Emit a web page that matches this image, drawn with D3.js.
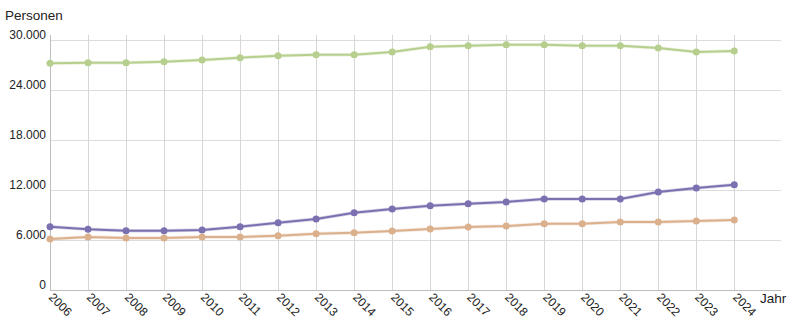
<!DOCTYPE html>
<html>
<head>
<meta charset="utf-8">
<script src="https://cdn.jsdelivr.net/npm/d3@7"></script>
<style>
  body { margin: 0; background: #fff; }
  text { font-family: "Liberation Sans", Arial, sans-serif; fill: #222; }
</style>
</head>
<body>
<div id="chart"></div>
<script>
var years = [2006, 2007, 2008, 2009, 2010, 2011, 2012, 2013, 2014, 2015,
             2016, 2017, 2018, 2019, 2020, 2021, 2022, 2023, 2024];

var greenValues = [27200, 27280, 27280, 27400, 27600, 27880, 28120, 28240, 28240, 28560,
                   29200, 29320, 29440, 29440, 29320, 29320, 29040, 28560, 28680];
var purpleValues = [7600, 7280, 7120, 7120, 7200, 7600, 8080, 8520, 9280, 9720,
                    10120, 10360, 10560, 10920, 10920, 10920, 11760, 12240, 12640];
var tanValues = [6120, 6360, 6240, 6240, 6360, 6360, 6520, 6760, 6880, 7080,
                 7320, 7560, 7680, 7960, 7960, 8160, 8160, 8280, 8400];

var yTicks = [0, 6000, 12000, 18000, 24000, 30000];

var series = [
  {name: "green", values: greenValues, color: "#b7cf8e"},
  {name: "purple", values: purpleValues, color: "#7c70b1"},
  {name: "tan", values: tanValues, color: "#dbb08d"}
];

var W = 795, H = 331;
var margin = {top: 35, right: 14, bottom: 41, left: 50};
var plotRight = W - margin.right;   // axis line / grid end

var svg = d3.select("#chart").append("svg")
  .attr("width", W)
  .attr("height", H);

var x = d3.scaleLinear()
  .domain([2006, 2024])
  .range([margin.left, 734.3]);

var y = d3.scaleLinear()
  .domain([0, 30600])
  .range([H - margin.bottom, margin.top]);

// horizontal grid
svg.append("g")
  .selectAll("line")
  .data(yTicks.slice(1))
  .enter().append("line")
    .attr("x1", margin.left)
    .attr("x2", plotRight)
    .attr("y1", function(d) { return Math.round(y(d)) + 0.5; })
    .attr("y2", function(d) { return Math.round(y(d)) + 0.5; })
    .style("stroke", "#dcdcdc");

// vertical grid
svg.append("g")
  .selectAll("line")
  .data(years)
  .enter().append("line")
    .attr("x1", function(d) { return Math.round(x(d)) + 0.5; })
    .attr("x2", function(d) { return Math.round(x(d)) + 0.5; })
    .attr("y1", margin.top)
    .attr("y2", y(0))
    .style("stroke", "#d6d6d6");

// axes lines
svg.append("line")
  .attr("x1", margin.left + 0.5).attr("x2", margin.left + 0.5)
  .attr("y1", margin.top).attr("y2", Math.round(y(0)) + 0.5)
  .style("stroke", "#bdbdbd");
svg.append("line")
  .attr("x1", margin.left).attr("x2", plotRight)
  .attr("y1", Math.round(y(0)) + 0.5).attr("y2", Math.round(y(0)) + 0.5)
  .style("stroke", "#bdbdbd");

// y tick labels
var fmt = d3.formatLocale({decimal: ",", thousands: ".", grouping: [3], currency: ["", " €"]}).format(",d");
svg.append("g")
  .selectAll("text")
  .data(yTicks)
  .enter().append("text")
    .attr("x", margin.left - 4)
    .attr("y", function(d) { return y(d) - 1; })
    .attr("text-anchor", "end")
    .attr("font-size", "12px")
    .text(function(d) { return fmt(d); });

// x tick labels, rotated
svg.append("g")
  .selectAll("text")
  .data(years)
  .enter().append("text")
    .attr("transform", function(d) { return "translate(" + (x(d) - 2) + "," + (y(0) + 8) + ") rotate(45)"; })
    .attr("font-size", "12px")
    .text(function(d) { return d; });

// axis titles
svg.append("text")
  .attr("x", 5).attr("y", 20)
  .attr("font-size", "13.5px")
  .text("Personen");
svg.append("text")
  .attr("x", 760).attr("y", 303)
  .attr("font-size", "13.5px")
  .text("Jahr");

// lines and points
var line = d3.line()
  .x(function(d, i) { return x(years[i]); })
  .y(function(d) { return y(d); });

series.forEach(function(s) {
  var g = svg.append("g");
  g.append("path")
    .datum(s.values)
    .attr("d", line)
    .style("fill", "none")
    .style("stroke", s.color)
    .style("stroke-opacity", 0.3)
    .style("stroke-width", 3.5);
  g.append("path")
    .datum(s.values)
    .attr("d", line)
    .style("fill", "none")
    .style("stroke", s.color)
    .style("stroke-width", 2);
  g.selectAll("circle")
    .data(s.values)
    .enter().append("circle")
      .attr("cx", function(d, i) { return x(years[i]); })
      .attr("cy", function(d) { return y(d); })
      .attr("r", 3.5)
      .style("fill", s.color);
});
</script>
</body>
</html>
